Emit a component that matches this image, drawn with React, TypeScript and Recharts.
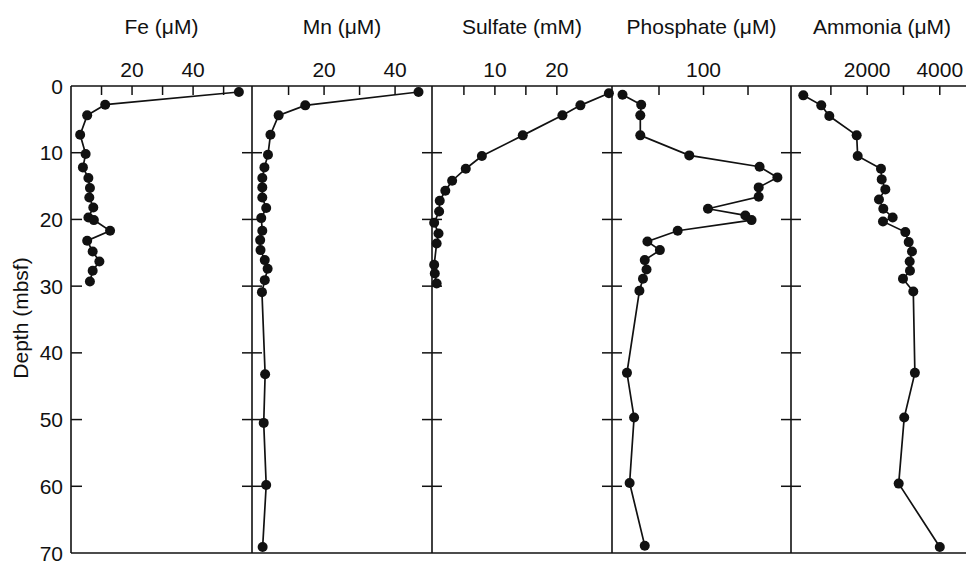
import { Scatter, ScatterChart, XAxis, YAxis } from "recharts";

const INK = "#111";
const FONT = "'Liberation Sans', Arial, Helvetica, sans-serif";

// plot frame (shared depth scale)
const TOP = 86;
const BOTTOM = 553;
const CHART_W = 990;
const CHART_H = 568;

const depthTicks = [0, 10, 20, 30, 40, 50, 60, 70];
const innerDepthTicks = [10, 20, 30, 40, 50, 60];

// Fe (uM)
const feDepth = [0.9, 2.8, 4.4, 7.3, 10.2, 12.2, 13.8, 15.3, 16.7, 18.2, 19.7, 20.1, 21.7, 23.2, 24.8, 26.3, 27.7, 29.3];
const feValue = [55, 11.2, 5.3, 3.0, 4.8, 3.9, 5.7, 6.2, 6.0, 7.3, 5.7, 7.5, 12.8, 5.3, 7.1, 9.3, 7.1, 6.2];

// Mn (uM)
const mnDepth = [0.9, 2.9, 4.4, 7.3, 10.3, 12.2, 13.8, 15.2, 16.7, 18.3, 19.8, 21.7, 23.1, 24.6, 26.1, 27.4, 29.1, 30.9, 43.2, 50.5, 59.8, 69.1];
const mnValue = [46.6, 14.7, 7.2, 4.9, 4.2, 3.2, 2.6, 2.6, 2.6, 3.7, 2.3, 2.6, 2.0, 2.1, 3.3, 4.1, 3.3, 2.5, 3.4, 3.0, 3.7, 2.7];

// Sulfate (mM)
const so4Depth = [1.1, 2.9, 4.4, 7.4, 10.5, 12.4, 14.2, 15.7, 17.2, 18.8, 20.5, 22.1, 23.6, 26.8, 28.1, 29.6];
const so4Value = [28.4, 23.8, 20.9, 14.5, 7.9, 5.3, 3.1, 2.0, 1.1, 1.0, 0.2, 0.9, 0.6, 0.2, 0.3, 0.6];

// Phosphate (uM)
const po4Depth = [1.3, 2.8, 4.4, 7.4, 10.4, 12.1, 13.7, 15.2, 16.6, 18.4, 19.4, 20.1, 21.7, 23.3, 24.6, 26.1, 27.5, 28.9, 30.7, 43.0, 49.7, 59.5, 68.9];
const po4Value = [9, 30, 29, 29, 84, 163, 183, 162, 162, 105, 147, 154, 71, 37, 51, 34, 36, 32, 28, 14, 22, 17, 34];

// Ammonia (uM)
const nh4Depth = [1.4, 2.9, 4.5, 7.4, 10.5, 12.4, 14.0, 15.5, 17.0, 18.4, 19.7, 20.3, 21.9, 23.4, 24.8, 26.3, 27.7, 28.9, 30.8, 43.0, 49.7, 59.6, 69.1];
const nh4Value = [240, 735, 956, 1710, 1738, 2380, 2400, 2500, 2325, 2444, 2702, 2435, 3050, 3143, 3234, 3171, 3179, 2986, 3270, 3314, 3020, 2868, 4000];

type PanelSpec = {
  title: string;
  left: number;
  right: number;
  domain: [number, number];
  ticks: number[];
  labels: number[];
  depths: number[];
  values: number[];
};

const panels: PanelSpec[] = [
  { title: "Fe (\u03bcM)", left: 71, right: 252, domain: [0, 59.3], ticks: [10, 20, 30, 40, 50], labels: [20, 40], depths: feDepth, values: feValue },
  { title: "Mn (\u03bcM)", left: 252, right: 432, domain: [-0.3, 50.4], ticks: [10, 20, 30, 40], labels: [20, 40], depths: mnDepth, values: mnValue },
  { title: "Sulfate (mM)", left: 432, right: 612, domain: [-0.15, 28.9], ticks: [5, 10, 15, 20], labels: [10, 20], depths: so4Depth, values: so4Value },
  { title: "Phosphate (\u03bcM)", left: 612, right: 791, domain: [-2.8, 198.3], ticks: [50, 100, 150], labels: [100], depths: po4Depth, values: po4Value },
  { title: "Ammonia (\u03bcM)", left: 791, right: 973, domain: [-99, 4915], ticks: [1000, 2000, 3000, 4000], labels: [2000, 4000], depths: nh4Depth, values: nh4Value },
];

const textStyle = { fontFamily: FONT, fontSize: 21, fill: INK };

function Dot(props: any) {
  return <circle cx={props.cx} cy={props.cy} r={5} fill={INK} />;
}

function Panel({ spec, index }: { spec: PanelSpec; index: number }) {
  const rows = spec.depths.map((d, i) => ({ d, v: spec.values[i] }));
  const first = index === 0;
  const last = index === panels.length - 1;

  const xTick = (p: any) => (
    <g>
      <line x1={p.x} x2={p.x} y1={TOP} y2={TOP + 9} stroke={INK} strokeWidth={1.5} />
      {spec.labels.includes(p.payload.value) && (
        <text x={p.x} y={TOP - 9} textAnchor="middle" style={textStyle}>
          {p.payload.value}
        </text>
      )}
    </g>
  );

  const yTick = (p: any) => {
    const v = p.payload.value;
    const x = spec.left;
    if (first) {
      return (
        <g>
          {v > 0 && v < 70 && (
            <line x1={x} x2={x + 11} y1={p.y} y2={p.y} stroke={INK} strokeWidth={1.5} />
          )}
          <text x={x - 8} y={p.y} dy="0.36em" textAnchor="end" style={textStyle}>
            {v}
          </text>
        </g>
      );
    }
    if (v <= 0 || v >= 70) return <g />;
    return <line x1={x - 10} x2={x + 10} y1={p.y} y2={p.y} stroke={INK} strokeWidth={1.5} />;
  };

  const crossTick = (p: any) => {
    const v = p.payload.value;
    if (v <= 0 || v >= 70) return <g />;
    const x = spec.right;
    return <line x1={x - 10} x2={x + 10} y1={p.y} y2={p.y} stroke={INK} strokeWidth={1.5} />;
  };

  return (
    <div style={{ position: "absolute", left: 0, top: 0 }}>
      <ScatterChart
        width={CHART_W}
        height={CHART_H}
        margin={{
          top: TOP - 1,
          bottom: CHART_H - BOTTOM - 1,
          left: spec.left - 1,
          right: CHART_W - spec.right - (last ? 1 : 0),
        }}
      >
        <XAxis
          type="number"
          dataKey="v"
          orientation="top"
          domain={spec.domain}
          ticks={spec.ticks}
          interval={0}
          height={1}
          tickSize={0}
          tickMargin={0}
          tickLine={false}
          tick={xTick}
          axisLine={{ stroke: INK, strokeWidth: 1.6 }}
          label={{ value: spec.title, position: "top", offset: 51, style: textStyle }}
        />
        <XAxis
          xAxisId="bottom"
          type="number"
          orientation="bottom"
          domain={spec.domain}
          height={1}
          tick={false}
          tickLine={false}
          axisLine={{ stroke: INK, strokeWidth: 1.6 }}
        />
        <YAxis
          type="number"
          dataKey="d"
          domain={[0, 70]}
          reversed
          ticks={depthTicks}
          interval={0}
          width={1}
          tickSize={0}
          tickMargin={0}
          tickLine={false}
          tick={yTick}
          axisLine={{ stroke: INK, strokeWidth: 1.6 }}
        />
        {last && (
          <YAxis
            yAxisId="edge"
            orientation="right"
            type="number"
            domain={[0, 70]}
            reversed
            ticks={innerDepthTicks}
            interval={0}
            width={1}
            tickSize={0}
            tickMargin={0}
            tickLine={false}
            tick={crossTick}
            axisLine={{ stroke: INK, strokeWidth: 1.6 }}
          />
        )}
        <Scatter
          data={rows}
          line={{ stroke: INK, strokeWidth: 1.7 }}
          lineType="joint"
          shape={Dot}
          isAnimationActive={false}
        />
      </ScatterChart>
    </div>
  );
}

export default function App() {
  return (
    <div style={{ position: "relative", width: 966, height: 568, overflow: "hidden", background: "#fff" }}>
      <style>{"body{margin:0}"}</style>
      {panels.map((p, i) => (
        <Panel key={p.title} spec={p} index={i} />
      ))}
      <svg width={966} height={568} style={{ position: "absolute", left: 0, top: 0, pointerEvents: "none" }}>
        <text transform="translate(28,318) rotate(-90)" textAnchor="middle" style={textStyle}>
          Depth (mbsf)
        </text>
      </svg>
    </div>
  );
}
